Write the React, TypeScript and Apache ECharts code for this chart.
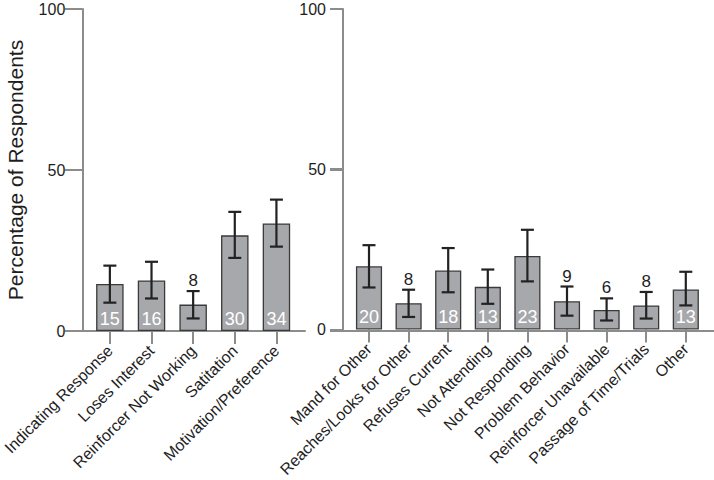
import React, { useEffect, useRef } from "react";
import * as echarts from "echarts";

const leftCategories = [
  "Indicating Response",
  "Loses Interest",
  "Reinforcer Not Working",
  "Satitation",
  "Motivation/Preference",
];
const leftValues = [14.6, 15.7, 8.2, 29.7, 33.4];
const leftLabels = ["15", "16", "8", "30", "34"];
const leftErrLow = [8.8, 10.1, 3.9, 22.7, 26.2];
const leftErrHigh = [20.3, 21.5, 12.4, 37.0, 40.8];

const rightCategories = [
  "Mand for Other",
  "Reaches/Looks for Other",
  "Refuses Current",
  "Not Attending",
  "Not Responding",
  "Problem Behavior",
  "Reinforcer Unavailable",
  "Passage of Time/Trials",
  "Other",
];
const rightValues = [19.7, 8.2, 18.4, 13.3, 22.9, 8.8, 6.1, 7.5, 12.5];
const rightLabels = ["20", "8", "18", "13", "23", "9", "6", "8", "13"];
const rightErrLow = [13.1, 3.9, 11.6, 8.0, 15.0, 4.3, 2.8, 3.4, 7.5];
const rightErrHigh = [26.3, 12.4, 25.4, 18.7, 31.1, 13.4, 9.7, 11.7, 18.0];

const yTicks = { min: 0, max: 100, interval: 50 };

const FONT = "'Liberation Sans', Arial, Helvetica, sans-serif";
const AXIS_COLOR = "#8c8c8c";
const TEXT_COLOR = "#1e1e1e";
const BAR_FILL = "#a7a8ab";
const BAR_BORDER = "#3a3a3a";
const ERR_COLOR = "#222222";
const OUTSIDE_THRESHOLD = 10;

function barData(values: number[], labels: string[]) {
  return values.map((v, i) => ({
    value: v,
    label: {
      show: v >= OUTSIDE_THRESHOLD,
      formatter: labels[i],
    },
  }));
}

function errData(values: number[], labels: string[], low: number[], high: number[]) {
  return values.map((v, i) => [i, low[i], high[i], v, labels[i]]);
}

const renderErr = (params: any, api: any) => {
  const idx = api.value(0);
  const lo = api.coord([idx, api.value(1)]);
  const hi = api.coord([idx, api.value(2)]);
  const v = api.value(3);
  const label = String(api.value(4));
  const half = 6.5;
  const lineStyle = { stroke: ERR_COLOR, lineWidth: 2.2 };
  const children: any[] = [
    { type: "line", shape: { x1: lo[0], y1: lo[1], x2: hi[0], y2: hi[1] }, style: lineStyle },
    { type: "line", shape: { x1: hi[0] - half, y1: hi[1], x2: hi[0] + half, y2: hi[1] }, style: lineStyle },
    { type: "line", shape: { x1: lo[0] - half, y1: lo[1], x2: lo[0] + half, y2: lo[1] }, style: lineStyle },
  ];
  if (v < OUTSIDE_THRESHOLD) {
    children.push({
      type: "text",
      x: hi[0],
      y: hi[1] - 2,
      style: {
        text: label,
        fill: TEXT_COLOR,
        font: `17px ${FONT}`,
        align: "center",
        verticalAlign: "bottom",
      },
    });
  }
  return { type: "group", children };
};

const TOP = 9;
const HEIGHT = 322;
const TICK_LEN = 13;

function visibleY(gridIndex: number, withName: boolean, offset: number) {
  return {
    type: "value",
    gridIndex,
    ...yTicks,
    offset,
    name: withName ? "Percentage of Respondents" : "",
    nameLocation: "middle",
    nameGap: 56,
    nameTextStyle: { fontSize: 21, color: TEXT_COLOR, fontFamily: FONT },
    axisLine: { show: true, onZero: false, lineStyle: { color: AXIS_COLOR, width: 2 } },
    axisTick: { show: true, length: TICK_LEN, lineStyle: { color: AXIS_COLOR, width: 2 } },
    axisLabel: { show: true, fontSize: 16, color: TEXT_COLOR, fontFamily: FONT, margin: 17 },
    splitLine: { show: false },
  };
}

function hiddenY(gridIndex: number) {
  return {
    type: "value",
    gridIndex,
    ...yTicks,
    axisLine: { show: false },
    axisTick: { show: false },
    axisLabel: { show: false },
    splitLine: { show: false },
  };
}

// y-axis tick marks: split lines of a narrow grid placed just left of the axis line
function tickY(gridIndex: number) {
  return {
    type: "value",
    gridIndex,
    ...yTicks,
    axisLine: { show: false },
    axisTick: { show: false },
    axisLabel: { show: false },
    splitLine: {
      show: true,
      showMinLine: true,
      showMaxLine: true,
      lineStyle: { color: AXIS_COLOR, width: 2, type: "solid" },
    },
  };
}

function hiddenX(gridIndex: number) {
  return {
    type: "value",
    gridIndex,
    min: 0,
    max: 1,
    show: false,
    splitLine: { show: false },
  };
}

function frameX(gridIndex: number) {
  return {
    type: "value",
    gridIndex,
    min: 0,
    max: 1,
    axisLine: { show: true, lineStyle: { color: AXIS_COLOR, width: 2 } },
    axisTick: { show: false },
    axisLabel: { show: false },
    splitLine: { show: false },
  };
}

function catX(gridIndex: number, data: string[]) {
  return {
    type: "category",
    gridIndex,
    data,
    axisLine: { show: false },
    axisTick: { show: true, alignWithLabel: true, length: TICK_LEN, lineStyle: { color: AXIS_COLOR, width: 2 } },
    axisLabel: {
      rotate: 45,
      interval: 0,
      fontSize: 16,
      color: TEXT_COLOR,
      fontFamily: FONT,
      margin: 17,
    },
    splitLine: { show: false },
  };
}

function barSeries(axisIndex: number, values: number[], labels: string[]) {
  return {
    type: "bar",
    xAxisIndex: axisIndex,
    yAxisIndex: axisIndex,
    barWidth: "66%",
    data: barData(values, labels),
    itemStyle: { color: BAR_FILL, borderColor: BAR_BORDER, borderWidth: 1.3 },
    label: {
      position: "insideBottom",
      distance: 3,
      color: "#ffffff",
      fontSize: 18,
      fontFamily: FONT,
    },
    z: 2,
  };
}

function errSeries(axisIndex: number, values: number[], labels: string[], low: number[], high: number[]) {
  return {
    type: "custom",
    xAxisIndex: axisIndex,
    yAxisIndex: axisIndex,
    renderItem: renderErr,
    encode: { x: 0, y: [1, 2] },
    data: errData(values, labels, low, high),
    clip: false,
    z: 5,
  };
}

const LEFT_FRAME = 78;
const LEFT_BARS = 84.75;
const RIGHT_FRAME = 343;
const RIGHT_BARS = 349.2;

export default function App() {
  const ref = useRef<HTMLDivElement>(null);
  useEffect(() => {
    if (!ref.current) return;
    const chart = echarts.init(ref.current, undefined, { renderer: "svg" });
    chart.setOption({
      animation: false,
      backgroundColor: "#ffffff",
      textStyle: { fontFamily: FONT },
      grid: [
        { left: LEFT_FRAME, top: TOP, width: 227, height: HEIGHT },
        { left: LEFT_BARS, top: TOP, width: 212.5, height: HEIGHT },
        { left: RIGHT_FRAME, top: TOP, width: 371, height: HEIGHT },
        { left: RIGHT_BARS, top: TOP, width: 356.4, height: HEIGHT },
        { left: LEFT_FRAME - TICK_LEN, top: TOP, width: TICK_LEN, height: HEIGHT },
        { left: RIGHT_FRAME - TICK_LEN, top: TOP, width: TICK_LEN, height: HEIGHT },
      ],
      xAxis: [
        frameX(0),
        catX(1, leftCategories),
        frameX(2),
        catX(3, rightCategories),
        hiddenX(4),
        hiddenX(5),
      ],
      yAxis: [
        hiddenY(0),
        visibleY(1, true, LEFT_BARS - LEFT_FRAME),
        hiddenY(2),
        visibleY(3, false, RIGHT_BARS - RIGHT_FRAME),
        tickY(4),
        tickY(5),
      ],
      series: [
        barSeries(1, leftValues, leftLabels),
        errSeries(1, leftValues, leftLabels, leftErrLow, leftErrHigh),
        barSeries(3, rightValues, rightLabels),
        errSeries(3, rightValues, rightLabels, rightErrLow, rightErrHigh),
      ],
    });
    return () => chart.dispose();
  }, []);
  return (
    <div
      ref={ref}
      style={{ position: "fixed", left: 0, top: 0, width: 714, height: 480, background: "#fff" }}
    />
  );
}
